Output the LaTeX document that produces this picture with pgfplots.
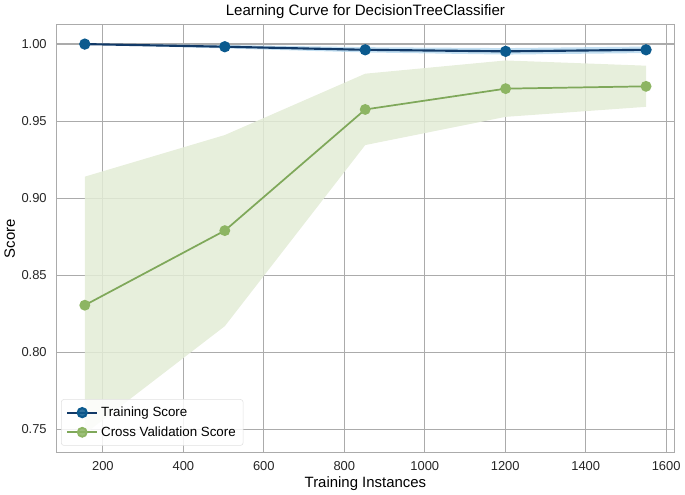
\documentclass[border=0pt]{standalone}
\usepackage{fontspec}
\setmainfont{Liberation Sans}
\usepackage{pgfplots}
\usepackage{pgfplotstable}
\pgfplotsset{compat=1.18}
\usepgfplotslibrary{fillbetween}

\definecolor{trainline}{HTML}{123A68}
\definecolor{trainmark}{HTML}{0B5A8E}
\definecolor{trainband}{HTML}{A9D2EC}
\definecolor{cvline}{HTML}{7FA85A}
\definecolor{cvmark}{HTML}{8DB563}
\definecolor{cvband}{HTML}{E3ECD6}
\definecolor{gridgray}{HTML}{ABABAB}

% train sizes, mean score, mean - std, mean + std
\pgfplotstableread{
x    mean    lo      hi
155  1.0000  0.9998  1.0002
503  0.9983  0.9972  0.9994
852  0.9963  0.9946  0.9980
1201 0.9953  0.9932  0.9974
1550 0.9963  0.9942  0.9984
}\train

\pgfplotstableread{
x    mean    lo      hi
155  0.8306  0.7472  0.9140
503  0.8790  0.8170  0.9410
852  0.9576  0.9345  0.9808
1201 0.9711  0.9528  0.9894
1550 0.9726  0.9593  0.9860
}\cv

\begin{document}
\begin{tikzpicture}
\begin{axis}[
    scale only axis,
    width=463pt, height=321pt,
    xmin=85.25, xmax=1619.75,
    ymin=0.735, ymax=1.0127,
    xtick={200,400,...,1600},
    ytick={0.75,0.80,...,1.00},
    /pgf/number format/assume math mode=true,
    tick label style={font=\fontsize{9.7}{11}\selectfont, text=black!85},
    yticklabel style={xshift=-4pt, /pgf/number format/.cd, fixed, fixed zerofill, precision=2},
    xticklabel style={yshift=-3.5pt, /pgf/number format/.cd, set thousands separator={}},
    major tick length=0pt,
    grid=major,
    major grid style={draw=gridgray, line width=0.9pt},
    axis line style={draw=gridgray, line width=0.9pt},
    title={Learning Curve for DecisionTreeClassifier},
    title style={font=\fontsize{11.3}{13}\selectfont, yshift=-5pt},
    xlabel={Training Instances},
    ylabel={Score},
    label style={font=\fontsize{11.2}{13}\selectfont},
    xlabel style={yshift=3pt},
    ylabel style={yshift=-2pt},
    legend style={at={(0.007,0.016)}, anchor=south west, draw=black!12,
        rounded corners=2pt, fill=white, fill opacity=0.85, text opacity=1,
        font=\fontsize{10}{12}\selectfont, row sep=2pt, inner sep=3.5pt},
    legend cell align=left,
    legend image code/.code={
        \draw[mark repeat=2, mark phase=2] plot coordinates {(0cm,0cm) (0.4cm,0cm) (0.8cm,0cm)};
    },
]
% bands
\addplot[name path=tlo, draw=none, forget plot] table[x=x, y=lo] {\train};
\addplot[name path=thi, draw=none, forget plot] table[x=x, y=hi] {\train};
\addplot[fill=trainband, fill opacity=0.7, draw=none, forget plot] fill between[of=tlo and thi];
\addplot[name path=clo, draw=none, forget plot] table[x=x, y=lo] {\cv};
\addplot[name path=chi, draw=none, forget plot] table[x=x, y=hi] {\cv};
\addplot[fill=cvband, fill opacity=0.85, draw=none, forget plot] fill between[of=clo and chi];
% means
\addplot[color=trainline, line width=1.6pt, mark=*, mark size=3.4pt,
    mark options={fill=trainmark, draw=trainmark}] table[x=x, y=mean] {\train};
\addlegendentry{Training Score}
\addplot[color=cvline, line width=1.3pt, mark=*, mark size=3.4pt,
    mark options={fill=cvmark, draw=cvmark}] table[x=x, y=mean] {\cv};
\addlegendentry{Cross Validation Score}
\end{axis}
\end{tikzpicture}
\end{document}
